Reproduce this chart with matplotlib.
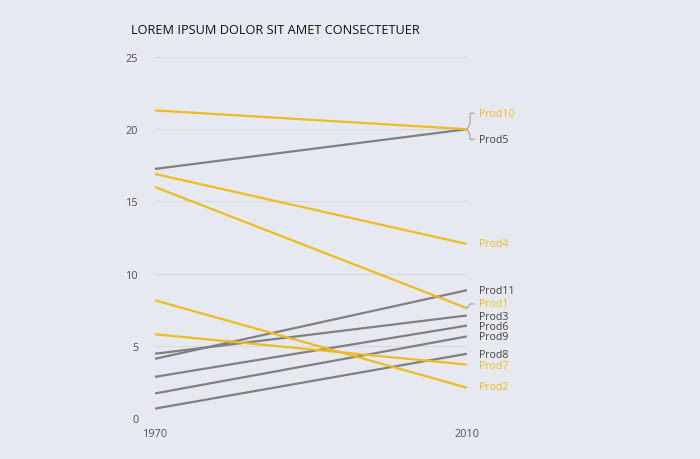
import matplotlib
matplotlib.use("Agg")
import matplotlib.pyplot as plt

plt.rcParams['font.family'] = ['Open Sans', 'DejaVu Sans']

years = [1970, 2010]
products = ["Prod10", "Prod5", "Prod4", "Prod1", "Prod2", "Prod7",
            "Prod11", "Prod3", "Prod6", "Prod9", "Prod8"]
start_vals = [21.3, 17.25, 16.9, 16.0, 8.15, 5.8, 4.1, 4.45, 2.85, 1.7, 0.65]
end_vals = [20.0, 20.0, 12.05, 7.6, 2.1, 3.7, 8.85, 7.1, 6.4, 5.65, 4.45]
highlight = [True, False, True, True, True, True, False, False, False, False, False]
# label y positions (layout, data units) after de-overlapping
label_y = [21.1, 19.3, 12.05, 7.9, 2.15, 3.65, 8.85, 7.05, 6.35, 5.65, 4.4]

YELLOW = "#EDBB22"
GRAY = "#808080"
BG = "#E6EAF0"

fig = plt.figure(figsize=(7, 4.6), dpi=100, facecolor=BG)
ax = fig.add_axes([155/700, 1-419/460, 312/700, 361/460])
ax.set_facecolor(BG)

order = [i for i in range(len(products)) if not highlight[i]] + [i for i in range(len(products)) if highlight[i]]
for i in order:
    c = YELLOW if highlight[i] else GRAY
    ax.plot(years, [start_vals[i], end_vals[i]], color=c, lw=1.6,
            solid_capstyle='butt', zorder=3 if highlight[i] else 2)

for i, p in enumerate(products):
    tc = YELLOW if highlight[i] else "#404040"
    ax.text(2011.55, label_y[i], p, color=tc, fontsize=7.6, va='center', ha='left',
            clip_on=False)

# leader lines
lc = "#A0A0A0"
ax.plot([2010, 2010.4, 2010.4, 2010.9], [20.0, 20.4, 21.1, 21.1], color=lc, lw=0.8, clip_on=False)
ax.plot([2010, 2010.4, 2010.4, 2010.9], [20.0, 19.6, 19.3, 19.3], color=lc, lw=0.8, clip_on=False)
ax.plot([2010, 2010.4, 2010.9], [7.6, 7.9, 7.9], color=lc, lw=0.8, clip_on=False)

ax.set_xlim(1970, 2010)
ax.set_ylim(0, 25)
ax.set_yticks([0, 5, 10, 15, 20, 25])
ax.set_xticks(years)
ax.grid(axis='y', color="#D6D9DE", lw=0.8, zorder=0)
for s in ax.spines.values():
    s.set_visible(False)
ax.tick_params(length=0, labelsize=7.8, colors="#505050", pad=12)
ax.tick_params(axis='x', pad=7)

fig.text(131/700, 1-31/460, "LOREM IPSUM DOLOR SIT AMET CONSECTETUER",
         fontsize=9.2, color="#111111", va='center', ha='left')

fig.savefig("out.png", dpi=100, facecolor=BG)
